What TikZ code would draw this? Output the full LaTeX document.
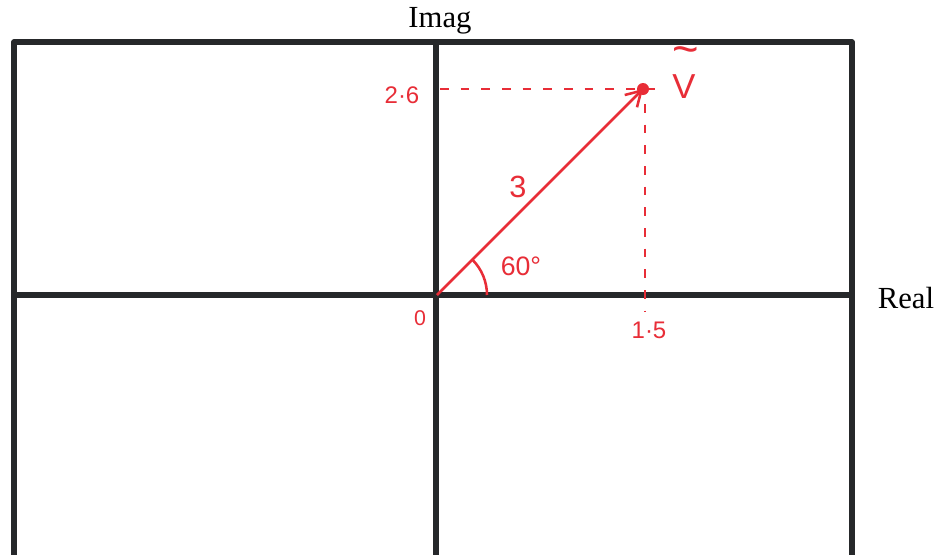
\documentclass[tikz,border=0pt]{standalone}
\usepackage{fontspec}
\setmainfont{Liberation Serif}
\newfontfamily\handfont{Liberation Sans}
\usetikzlibrary{arrows.meta}
\definecolor{pen}{RGB}{232,45,55}
\definecolor{ink}{RGB}{38,40,42}
\tikzset{
  frameline/.style={draw=ink, line width=3.8pt},
  redline/.style={draw=pen, line width=1.9pt},
  reddash/.style={draw=pen, line width=1.9pt, dash pattern=on 6.5pt off 9pt},
  redlabel/.style={text=pen, font=\handfont, inner sep=0pt},
  axlabel/.style={text=black, inner sep=0pt, font=\fontsize{23}{25}\selectfont}
}
\begin{document}
\begin{tikzpicture}[x=0.75pt,y=-0.75pt]
\useasboundingbox (0,0) rectangle (939,554);
\clip (0,0) rectangle (939,554);
\fill[white] (0,0) rectangle (939,554);
% frame and axes
\coordinate (BL) at (14,600);
\coordinate (TL) at (14,42);
\coordinate (TR) at (852,42);
\coordinate (BR) at (852,600);
\coordinate (AT) at (436,42);
\coordinate (AB) at (436,600);
\coordinate (HL) at (14,295);
\coordinate (HR) at (852,295);
\draw[frameline, line join=round] (BL) -- (TL) -- (TR) -- (BR);
\draw[frameline] (AT) -- (AB);
\draw[frameline] (HL) -- (HR);
\node[axlabel] (imag) at (440,21) {Imag};
\node[axlabel] (real) at (906,298) {Real};
% phasor
\coordinate (O) at (437,295);
\coordinate (P) at (643,89);
\coordinate (H0) at (440,89);
\coordinate (H1) at (664,89);
\coordinate (V0) at (645,104);
\coordinate (V1) at (645,312);
\draw[reddash] (H0) -- (H1);
\draw[reddash] (V0) -- (V1);
\draw[redline, -{Straight Barb[length=11pt,width=13pt]}] (O) -- (P);
\fill[pen] (P) circle[radius=6];
\draw[redline] ([shift={(0:50)}]O) arc[start angle=0,end angle=-45,radius=50];
\node[redlabel, font=\handfont\fontsize{18}{20}\selectfont] (l26) at (402,95) {2·6};
\node[redlabel, font=\handfont\fontsize{18}{20}\selectfont] (l15) at (649,330) {1·5};
\node[redlabel, font=\handfont\fontsize{16}{18}\selectfont] (l0) at (420,318) {0};
\node[redlabel, font=\handfont\fontsize{23}{25}\selectfont] (l3) at (518,187) {3};
\node[redlabel, font=\handfont\fontsize{20}{22}\selectfont] (l60) at (521,266) {60°};
\node[redlabel, font=\handfont\fontsize{26}{28}\selectfont] (lv) at (684,87) {V};
\node[redlabel, font=\handfont\fontsize{34}{36}\selectfont] (lt) at (686,56) {\char"007E};
\end{tikzpicture}
\end{document}
